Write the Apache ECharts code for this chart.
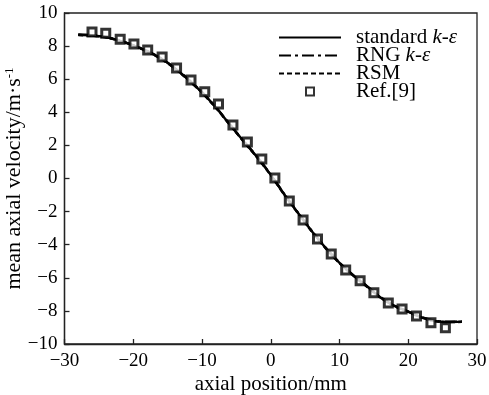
<!DOCTYPE html>
<html>
<head>
<meta charset="utf-8">
<script src="https://cdn.jsdelivr.net/npm/echarts@6/dist/echarts.min.js"></script>
<style>html,body{margin:0;padding:0;background:#fff}#c{width:489px;height:395px}</style>
</head>
<body>
<div id="c"></div>
<script>
// Curve abscissae (mm) and axial velocity (m/s)
var curveX = [-28, -26, -24, -22, -20, -18, -16, -14, -12, -10, -8, -6, -4, -2, 0, 2, 4, 6, 8, 10, 12, 14, 16, 18, 20, 22, 24, 26, 27.8];
var standardKE = [8.68, 8.64, 8.54, 8.33, 8.04, 7.70, 7.26, 6.68, 5.98, 5.20, 4.30, 3.28, 2.28, 1.30, 0.22, -0.98, -2.10, -3.20, -4.20, -5.10, -5.85, -6.52, -7.20, -7.70, -8.05, -8.40, -8.62, -8.67, -8.65];
var rngKE      = [8.70, 8.66, 8.55, 8.34, 8.05, 7.71, 7.27, 6.70, 6.00, 5.22, 4.32, 3.30, 2.30, 1.32, 0.24, -0.96, -2.08, -3.18, -4.18, -5.08, -5.84, -6.50, -7.18, -7.69, -8.04, -8.39, -8.61, -8.66, -8.64];
var rsm        = [8.67, 8.63, 8.53, 8.32, 8.03, 7.68, 7.24, 6.66, 5.96, 5.18, 4.28, 3.26, 2.26, 1.28, 0.20, -1.00, -2.12, -3.22, -4.22, -5.12, -5.87, -6.54, -7.21, -7.71, -8.06, -8.41, -8.63, -8.68, -8.66];
// Reference data Ref.[9]
var refX = [-26.0, -24.0, -21.9, -19.9, -17.9, -15.8, -13.7, -11.6, -9.6, -7.6, -5.5, -3.4, -1.3, 0.6, 2.7, 4.7, 6.8, 8.8, 10.9, 13.0, 15.0, 17.1, 19.1, 21.2, 23.3, 25.4];
var refY = [8.85, 8.77, 8.42, 8.13, 7.76, 7.34, 6.68, 5.95, 5.24, 4.50, 3.23, 2.21, 1.18, 0.03, -1.36, -2.51, -3.66, -4.56, -5.53, -6.18, -6.90, -7.52, -7.89, -8.31, -8.71, -9.02];
var xTicks = [-30, -20, -10, 0, 10, 20, 30];
var yTicks = [-10, -8, -6, -4, -2, 0, 2, 4, 6, 8, 10];
var seriesNames = ['standard k-ε', 'RNG k-ε', 'RSM', 'Ref.[9]'];

function zip(a, b) { return a.map(function (v, i) { return [v, b[i]]; }); }
var FONT = 'Liberation Serif';
function minus(v) { return String(v).replace('-', '\u2212'); }

var chart = echarts.init(document.getElementById('c'), null, {renderer: 'canvas'});
var lineBase = {type: 'line', symbol: 'none', smooth: 0.3, z: 3, animation: false, itemStyle: {color: 'rgba(0,0,0,0)'}};
var axisCommon = {
  nameMoveOverlap: false,
  axisLine: {onZero: false, lineStyle: {color: '#222', width: 1.3}},
  axisTick: {inside: true, length: 5, lineStyle: {color: '#222', width: 1.3}},
  splitLine: {show: false}
};
chart.setOption({
  animation: false,
  backgroundColor: '#fff',
  grid: {left: 64.5, right: 12, top: 13, bottom: 51, containLabel: false, outerBoundsMode: 'none',
    show: true, borderColor: '#222', borderWidth: 1.3, backgroundColor: 'transparent'},
  xAxis: Object.assign({
    type: 'value', min: xTicks[0], max: xTicks[xTicks.length - 1], interval: 10,
    name: 'axial position/mm', nameLocation: 'middle', nameGap: 30,
    nameTextStyle: {fontFamily: FONT, fontSize: 21, color: '#000'},
    axisLabel: {fontFamily: FONT, fontSize: 19, color: '#000', margin: 8, formatter: minus}
  }, axisCommon),
  yAxis: Object.assign({
    type: 'value', min: yTicks[0], max: yTicks[yTicks.length - 1], interval: 2,
    name: 'mean axial velocity/m·s{sup|-1}', nameLocation: 'middle', nameGap: 39,
    nameTextStyle: {fontFamily: FONT, fontSize: 22, color: '#000',
      rich: {sup: {fontFamily: FONT, fontSize: 13, color: '#000', verticalAlign: 'top', padding: [0, 0, 9, 0]}}},
    axisLabel: {fontFamily: FONT, fontSize: 19, color: '#000', margin: 7, formatter: minus}
  }, axisCommon),
  legend: {
    orient: 'vertical', left: 278, top: 27, itemWidth: 62, itemHeight: 8, itemGap: -3, padding: 0,
    selectedMode: false,
    data: [
      {name: seriesNames[0]}, {name: seriesNames[1]}, {name: seriesNames[2]},
      {name: seriesNames[3], icon: 'path://M0,0H10V10H0Z'}
    ],
    formatter: function (n) {
      return n.replace('k-ε', '{i|k}-{i|ε}');
    },
    textStyle: {fontFamily: FONT, fontSize: 21, lineHeight: 17.7, color: '#000', padding: [0, 0, 0, 10],
      rich: {i: {fontFamily: FONT, fontSize: 21, lineHeight: 17.7, fontStyle: 'italic', color: '#000'}}}
  },
  series: [
    Object.assign({}, lineBase, {name: seriesNames[0], data: zip(curveX, standardKE), lineStyle: {color: '#000', width: 2.4, type: 'solid'}}),
    Object.assign({}, lineBase, {name: seriesNames[1], data: zip(curveX, rngKE), lineStyle: {color: '#000', width: 2.4, type: [12, 4, 3, 4]}}),
    Object.assign({}, lineBase, {name: seriesNames[2], data: zip(curveX, rsm), lineStyle: {color: '#000', width: 2.4, type: [5, 3]}}),
    {type: 'scatter', name: seriesNames[3], data: zip(refX, refY), symbol: 'rect', symbolSize: 8, z: 5,
      itemStyle: {color: '#fff', borderColor: '#000', borderWidth: 3}}
  ]
});
</script>
</body>
</html>
